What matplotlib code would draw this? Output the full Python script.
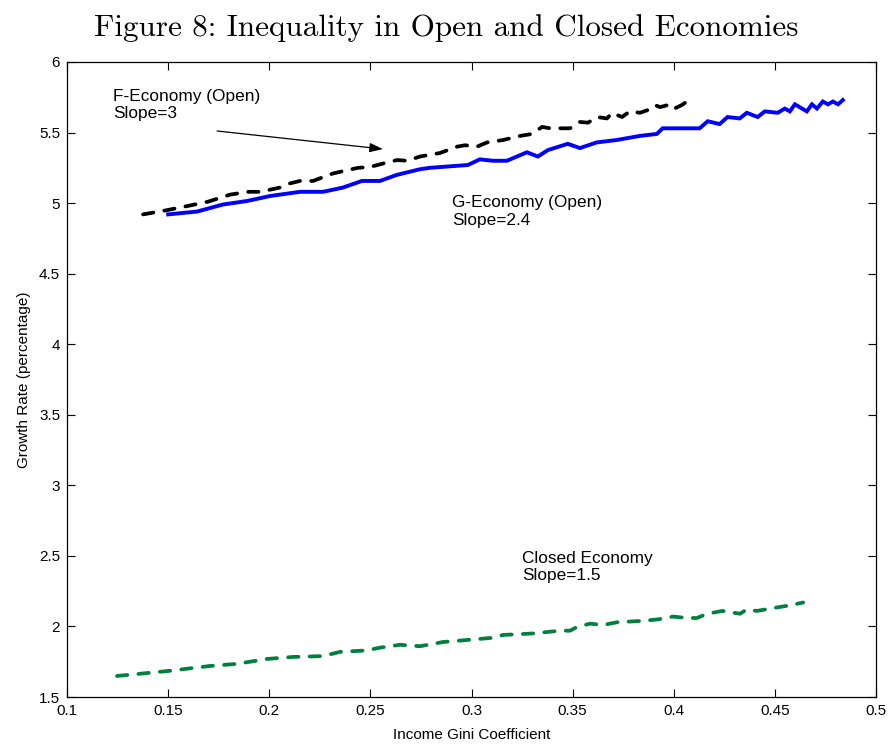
import matplotlib
matplotlib.use('Agg')
import matplotlib.pyplot as plt

# Data
gini_g = [0.150, 0.1643, 0.1771, 0.189, 0.2003, 0.2152, 0.2266, 0.2364, 0.2458, 0.2547,
          0.2631, 0.2745, 0.2794, 0.2982, 0.3041, 0.3106, 0.3175, 0.3274, 0.3328, 0.3378,
          0.3476, 0.3536, 0.3619, 0.3718, 0.3832, 0.3916, 0.3945, 0.4128, 0.4168, 0.4227,
          0.4266, 0.4326, 0.4361, 0.4415, 0.4450, 0.4514, 0.4549, 0.4574, 0.4599, 0.4658,
          0.4683, 0.4708, 0.4737, 0.4762, 0.4787, 0.4812, 0.4836]
growth_g = [4.92, 4.94, 4.99, 5.015, 5.05, 5.08, 5.08, 5.11, 5.157, 5.157,
            5.20, 5.24, 5.25, 5.27, 5.31, 5.30, 5.30, 5.36, 5.33, 5.376,
            5.42, 5.39, 5.43, 5.447, 5.476, 5.49, 5.53, 5.53, 5.58, 5.56,
            5.61, 5.60, 5.64, 5.61, 5.65, 5.64, 5.67, 5.65, 5.70, 5.65,
            5.70, 5.67, 5.72, 5.70, 5.72, 5.70, 5.73]

gini_f = [0.1376, 0.1494, 0.1598, 0.1697, 0.1806, 0.1895, 0.1954, 0.2053, 0.2103, 0.2152,
          0.2216, 0.2315, 0.2375, 0.2439, 0.2498, 0.2572, 0.2632, 0.2681, 0.2745, 0.2844,
          0.2929, 0.2968, 0.3027, 0.3077, 0.3156, 0.3240, 0.3299, 0.3349, 0.3388, 0.3487,
          0.3536, 0.3576, 0.3620, 0.3670, 0.3694, 0.3744, 0.3783, 0.3833, 0.3873, 0.3907,
          0.3932, 0.3971, 0.3996, 0.4040, 0.4065, 0.4080]
growth_f = [4.92, 4.95, 4.98, 5.01, 5.06, 5.08, 5.08, 5.11, 5.14, 5.157,
            5.157, 5.21, 5.23, 5.25, 5.256, 5.284, 5.305, 5.30, 5.33, 5.355,
            5.40, 5.41, 5.40, 5.43, 5.447, 5.476, 5.49, 5.54, 5.53, 5.53,
            5.575, 5.57, 5.61, 5.60, 5.64, 5.61, 5.65, 5.64, 5.66, 5.695,
            5.68, 5.695, 5.665, 5.695, 5.72, 5.705]

gini_c = [0.1247, 0.151, 0.1707, 0.184, 0.199, 0.2117, 0.2266, 0.235, 0.248, 0.2548,
          0.2646, 0.2745, 0.286, 0.2943, 0.3107, 0.3156, 0.330, 0.3438, 0.3487, 0.352,
          0.3586, 0.365, 0.372, 0.385, 0.392, 0.3997, 0.4066, 0.4115, 0.4165, 0.424,
          0.4328, 0.436, 0.441, 0.449, 0.4575, 0.464]
growth_c = [1.649, 1.686, 1.72, 1.735, 1.77, 1.784, 1.79, 1.82, 1.83, 1.85,
            1.87, 1.86, 1.89, 1.90, 1.92, 1.94, 1.95, 1.97, 1.97, 1.995,
            2.02, 2.01, 2.03, 2.04, 2.05, 2.07, 2.06, 2.06, 2.09, 2.11,
            2.09, 2.12, 2.11, 2.13, 2.15, 2.17]

xticks = [0.1, 0.15, 0.2, 0.25, 0.3, 0.35, 0.4, 0.45, 0.5]
yticks = [1.5, 2, 2.5, 3, 3.5, 4, 4.5, 5, 5.5, 6]

plt.rcParams['font.family'] = ['Liberation Sans', 'DejaVu Sans']
plt.rcParams['lines.scale_dashes'] = False

fig = plt.figure(figsize=(8.89, 7.45), dpi=100)
ax = fig.add_axes([0.0754, 0.0644, 0.910, 0.8524])

ax.plot(gini_g, growth_g, color='#0000ff', lw=2.8, solid_joinstyle='miter')
ax.plot(gini_f, growth_f, color='black', lw=2.7, dashes=(7.5, 8), dash_capstyle='round')
ax.plot(gini_c, growth_c, color='#00803c', lw=2.7, dashes=(7.5, 8), dash_capstyle='round')

ax.set_xlim(0.1, 0.5)
ax.set_ylim(1.5, 6)
ax.set_xticks(xticks)
ax.set_yticks(yticks)
ax.set_xticklabels(['%g' % v for v in xticks])
ax.set_yticklabels(['%g' % v for v in yticks])
ax.tick_params(direction='in', length=6, width=0.8, top=True, right=True,
               labelsize=11, pad=5)
for s in ax.spines.values():
    s.set_linewidth(0.9)

ax.set_xlabel('Income Gini Coefficient', fontsize=11, labelpad=7)
ax.set_ylabel('Growth Rate (percentage)', fontsize=11, labelpad=6)

ax.text(0.1227, 5.81, 'F-Economy (Open)\nSlope=3', fontsize=12.4, va='top', ha='left',
        linespacing=1.2)
ax.text(0.2903, 5.055, 'G-Economy (Open)\nSlope=2.4', fontsize=12.4, va='top', ha='left',
        linespacing=1.2)
ax.text(0.3249, 2.535, 'Closed Economy\nSlope=1.5', fontsize=12.4, va='top', ha='left',
        linespacing=1.2)

ax.annotate('', xy=(0.2562, 5.383), xytext=(0.1742, 5.511),
            arrowprops=dict(arrowstyle='-|>,head_length=0.8,head_width=0.28',
                            color='black', lw=0.9, shrinkA=0, shrinkB=0))

fig.text(0.502, 0.962, 'Figure 8: Inequality in Open and Closed Economies',
         fontsize=22.4, family='cmr10', ha='center', va='center')

fig.savefig('out.png', dpi=100)
